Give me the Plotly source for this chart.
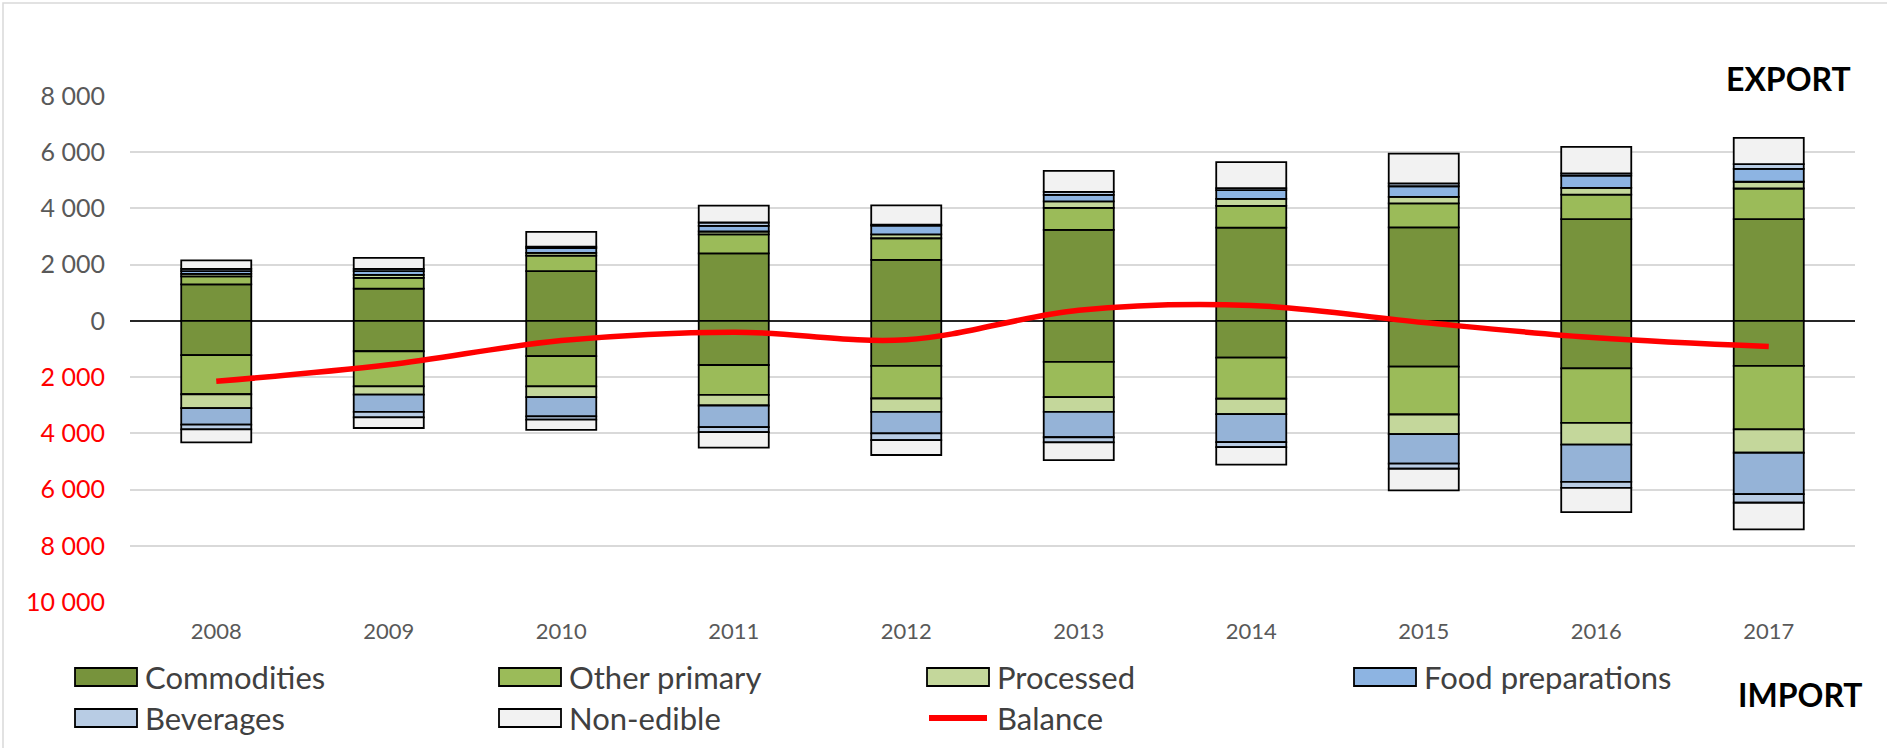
import plotly.graph_objects as go

years = ["2008", "2009", "2010", "2011", "2012", "2013", "2014", "2015", "2016", "2017"]

# Exports (positive)
exp_commodities = [1300, 1150, 1770, 2400, 2170, 3240, 3320, 3330, 3620, 3620]
exp_other = [280, 380, 550, 680, 770, 780, 770, 850, 870, 1090]
exp_processed = [90, 110, 100, 100, 140, 230, 250, 230, 240, 240]
exp_food = [100, 130, 170, 200, 310, 230, 310, 380, 440, 460]
exp_beverages = [80, 80, 50, 120, 30, 110, 70, 100, 80, 170]
exp_nonedible = [300, 390, 530, 600, 690, 750, 930, 1060, 940, 930]

# Imports (shown below zero)
imp_commodities = [1220, 1080, 1250, 1570, 1600, 1460, 1310, 1630, 1690, 1600]
imp_other = [1390, 1250, 1080, 1060, 1160, 1250, 1460, 1700, 1940, 2260]
imp_processed = [490, 290, 380, 380, 480, 530, 550, 700, 770, 830]
imp_food = [590, 620, 690, 770, 760, 900, 990, 1050, 1330, 1470]
imp_beverages = [170, 190, 110, 180, 240, 180, 180, 180, 210, 310]
imp_nonedible = [460, 380, 370, 550, 530, 630, 620, 770, 860, 950]

balance = [-2150, -1560, -700, -400, -670, 380, 550, -60, -600, -910]

tick_vals = [8000, 6000, 4000, 2000, 0, -2000, -4000, -6000, -8000, -10000]
tick_text = ["8 000", "6 000", "4 000", "2 000", "0",
             "2 000", "4 000", "6 000", "8 000", "10 000"]

series = [
    ("Commodities", exp_commodities, imp_commodities, "#77933C", "#77933C"),
    ("Other primary", exp_other, imp_other, "#9BBB59", "#9BBB59"),
    ("Processed", exp_processed, imp_processed, "#C4D79B", "#C4D79B"),
    ("Food preparations", exp_food, imp_food, "#8DB4E2", "#95B3D7"),
    ("Beverages", exp_beverages, imp_beverages, "#B8CCE4", "#B8CCE4"),
    ("Non-edible", exp_nonedible, imp_nonedible, "#F2F2F2", "#F2F2F2"),
]

FONT = "Lato"
fig = go.Figure()
for name, ev, iv, ce, ci in series:
    fig.add_trace(go.Bar(x=years, y=ev, name=name, marker=dict(color=ce, line=dict(color="black", width=1.8)),
                         showlegend=False))
    fig.add_trace(go.Bar(x=years, y=[-v for v in iv], name=name + " (import)",
                         marker=dict(color=ci, line=dict(color="black", width=1.8)), showlegend=False))

fig.add_trace(go.Scatter(x=years, y=balance, mode="lines", name="Balance",
                         line=dict(color="#FF0000", width=5.5, shape="spline", smoothing=1.0), showlegend=False))

# plot-area geometry in pixels
W, H = 1887, 748
L, R, T, B = 130, 32, 96, 146
pw, ph = W - L - R, H - T - B

def px(x):
    return (x - L) / pw

def py(y):
    return (H - B - y) / ph

colored = []
for v, t in zip(tick_vals, tick_text):
    c = "#FF0000" if v < 0 else "#595959"
    colored.append('<span style="color:%s">%s</span>' % (c, t))

shapes = []
annotations = []
# custom legend
legend_items = [
    ("Commodities", "#77933C", 75, 677, "box"),
    ("Other primary", "#9BBB59", 499, 677, "box"),
    ("Processed", "#C4D79B", 927, 677, "box"),
    ("Food preparations", "#8DB4E2", 1354, 677, "box"),
    ("Beverages", "#B8CCE4", 75, 718, "box"),
    ("Non-edible", "#F2F2F2", 499, 718, "box"),
    ("Balance", "#FF0000", 927, 718, "line"),
]
for label, col, x0, yc, kind in legend_items:
    if kind == "box":
        shapes.append(dict(type="rect", xref="paper", yref="paper",
                           x0=px(x0), x1=px(x0 + 62), y0=py(yc - 9), y1=py(yc + 9),
                           fillcolor=col, line=dict(color="black", width=1.8)))
    else:
        shapes.append(dict(type="line", xref="paper", yref="paper",
                           x0=px(x0 + 2), x1=px(x0 + 60), y0=py(yc), y1=py(yc),
                           line=dict(color=col, width=6)))
    annotations.append(dict(text=label, xref="paper", yref="paper", x=px(x0 + 68), y=py(yc),
                            xanchor="left", yanchor="middle", showarrow=False,
                            font=dict(family=FONT, size=31, color="#404040")))

annotations.append(dict(text="<b>EXPORT</b>", xref="paper", yref="paper", x=px(1853), y=py(79),
                        xanchor="right", yanchor="middle", showarrow=False,
                        font=dict(family=FONT, size=32, color="black")))
annotations.append(dict(text="<b>IMPORT</b>", xref="paper", yref="paper", x=px(1865), y=py(694),
                        xanchor="right", yanchor="middle", showarrow=False,
                        font=dict(family=FONT, size=32, color="black")))

# chart border
shapes.append(dict(type="rect", xref="paper", yref="paper", x0=px(3), x1=px(W + 10), y0=py(H + 10), y1=py(3),
                   line=dict(color="#D9D9D9", width=1.5), fillcolor="rgba(0,0,0,0)", layer="below"))

fig.update_layout(
    width=W, height=H,
    margin=dict(l=L, r=R, t=T, b=B, pad=0),
    barmode="relative", bargap=0.594,
    plot_bgcolor="white", paper_bgcolor="white",
    font=dict(family=FONT, color="#595959"),
    shapes=shapes, annotations=annotations,
    showlegend=False,
    xaxis=dict(type="category", range=[-0.5, 9.5], showgrid=False, showline=False, ticks="",
               tickfont=dict(family=FONT, size=22, color="#595959"), ticklabelstandoff=14),
    yaxis=dict(range=[-10000, 8000], tickvals=tick_vals, ticktext=colored,
               showgrid=True, gridcolor="#D9D9D9", gridwidth=1.5,
               zeroline=True, zerolinecolor="#262626", zerolinewidth=1.8,
               showline=False, ticks="", ticklabelstandoff=24,
               tickfont=dict(family=FONT, size=25, color="#595959")),
)

fig.write_html("out.html", config={"displayModeBar": False},
               post_script="document.body.style.margin='0';")
